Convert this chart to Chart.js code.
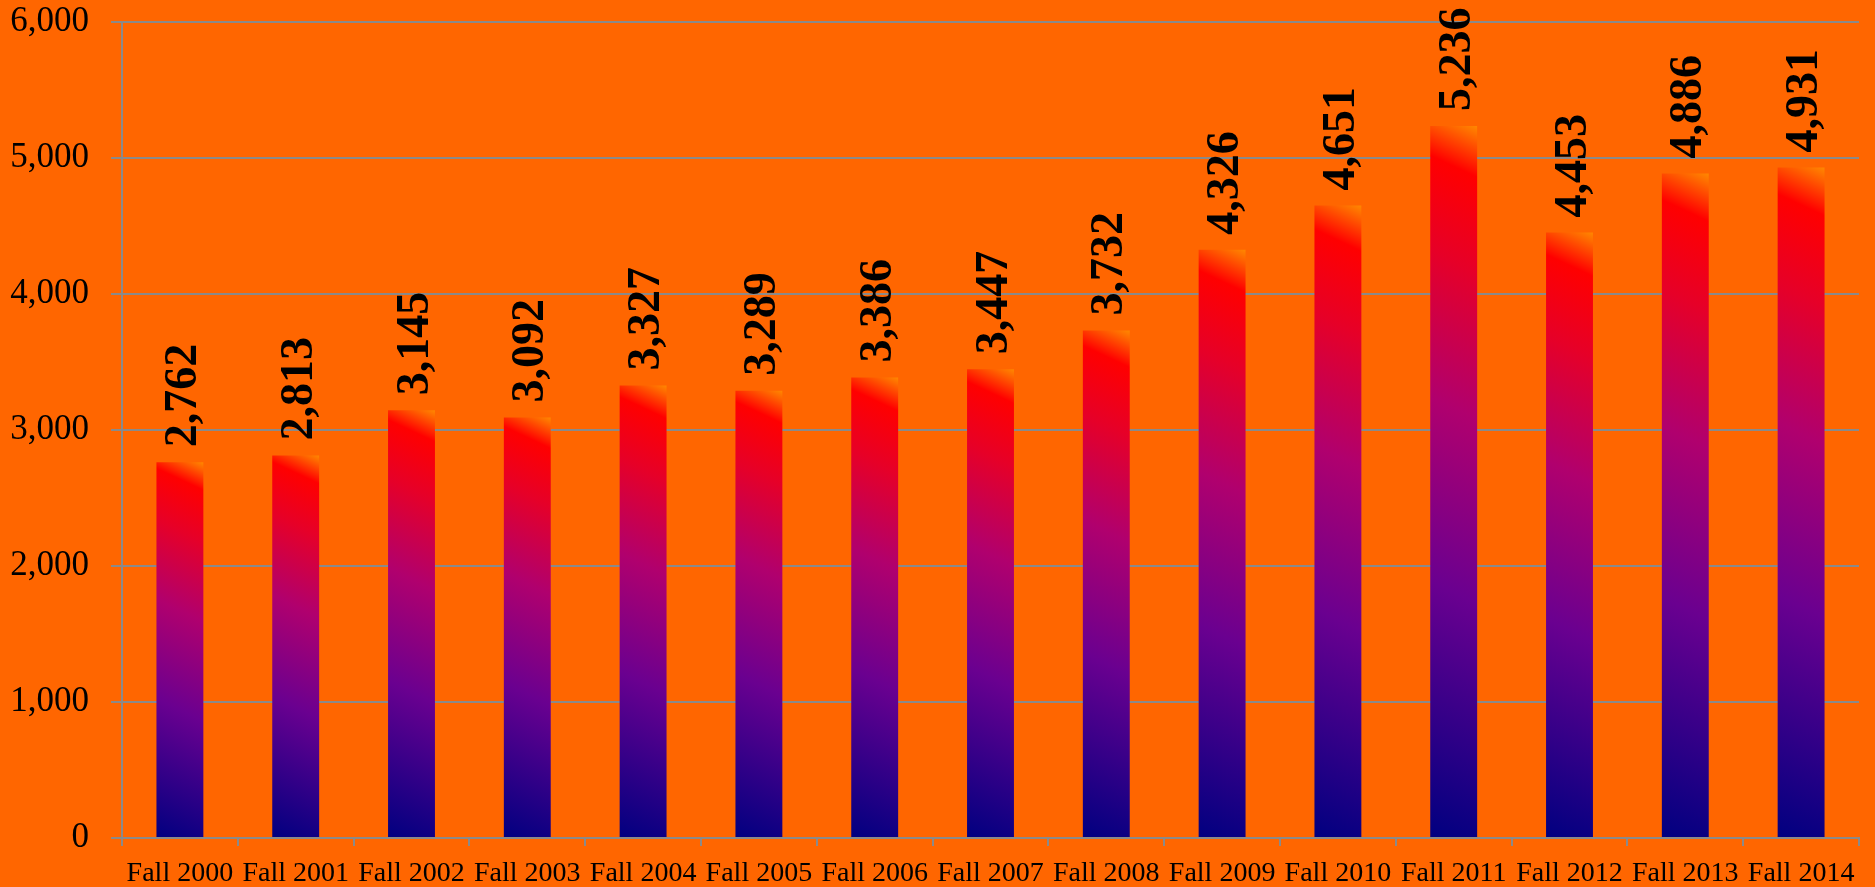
<!DOCTYPE html>
<html>
<head>
<meta charset="utf-8">
<script src="https://cdn.jsdelivr.net/npm/chart.js@4/dist/chart.umd.min.js"></script>
<style>
  html, body { margin: 0; padding: 0; background: #ff6600; }
  #chart { display: block; }
</style>
</head>
<body>
<canvas id="chart" width="1875" height="887"></canvas>
<script>
// Enrollment by fall term
const terms = ['Fall 2000', 'Fall 2001', 'Fall 2002', 'Fall 2003', 'Fall 2004', 'Fall 2005', 'Fall 2006',
    'Fall 2007', 'Fall 2008', 'Fall 2009', 'Fall 2010', 'Fall 2011', 'Fall 2012', 'Fall 2013', 'Fall 2014'];
const enrollment = [2762, 2813, 3145, 3092, 3327, 3289, 3386, 3447, 3732, 4326, 4651, 5236, 4453, 4886, 4931];
const yTicks = [0, 1000, 2000, 3000, 4000, 5000, 6000];

const BAR_FRACTION = 0.405;
const GRID = '#8a8a8a';
const SERIF = '"Liberation Serif", "DejaVu Serif", serif';

// per-bar gradient: navy at the bottom, red near the top, orange in the top-right corner
function barGradient(ctx) {
    const chart = ctx.chart;
    if (!chart.chartArea || ctx.dataIndex === undefined) return '#ff0000';
    const xs = chart.scales.x, ys = chart.scales.y;
    const cx = xs.getPixelForValue(ctx.dataIndex);
    const w = xs.width / terms.length * BAR_FRACTION;
    const top = ys.getPixelForValue(enrollment[ctx.dataIndex]);
    const base = ys.getPixelForValue(0);
    const h = base - top;
    const tilt = 25 * Math.PI / 180;
    const len = w * Math.sin(tilt) + h * Math.cos(tilt);
    const x0 = cx - w / 2;
    const g = chart.ctx.createLinearGradient(x0, base,
        x0 + Math.sin(tilt) * len, base - Math.cos(tilt) * len);
    g.addColorStop(0, '#000080');
    g.addColorStop(0.35, '#6a0090');
    g.addColorStop(0.6, '#b0006e');
    g.addColorStop(0.8, '#e60028');
    g.addColorStop(0.93, '#ff0000');
    g.addColorStop(1, '#ff8800');
    return g;
}

// rotated value labels above each bar
const valueLabels = {
    id: 'valueLabels',
    afterDatasetsDraw(chart) {
        const ctx = chart.ctx;
        const meta = chart.getDatasetMeta(0);
        const size = 46;
        ctx.save();
        ctx.font = `bold ${size}px ${SERIF}`;
        ctx.fillStyle = '#000';
        ctx.textAlign = 'left';
        ctx.textBaseline = 'alphabetic';
        meta.data.forEach((bar, i) => {
            ctx.save();
            ctx.translate(bar.x + size * 0.35, bar.y - 15);
            ctx.rotate(-Math.PI / 2);
            ctx.fillText(enrollment[i].toLocaleString('en-US'), 0, 0);
            ctx.restore();
        });
        ctx.restore();
    }
};

new Chart(document.getElementById('chart'), {
    type: 'bar',
    data: {
        labels: terms,
        datasets: [{
            data: enrollment,
            backgroundColor: barGradient,
            borderWidth: 0,
            categoryPercentage: 1,
            barPercentage: BAR_FRACTION,
        }]
    },
    options: {
        responsive: false,
        animation: false,
        devicePixelRatio: 1,
        layout: { padding: { top: 22, right: 16, left: 0, bottom: 0 } },
        plugins: {
            legend: { display: false },
            tooltip: { enabled: false },
        },
        scales: {
            x: {
                offset: true,
                grid: { offset: true, drawOnChartArea: false, drawTicks: true, tickLength: 8, color: GRID, lineWidth: 2 },
                border: { color: GRID, width: 2 },
                ticks: { color: '#000', font: { family: SERIF, size: 28 }, padding: 11, maxRotation: 0, autoSkip: false },
                afterFit: s => { s.height = 49; s.paddingLeft = 0; s.paddingRight = 0; },
            },
            y: {
                min: 0,
                max: 6000,
                afterBuildTicks: s => { s.ticks = yTicks.map(v => ({ value: v })); },
                grid: { color: GRID, lineWidth: 2, tickLength: 11 },
                border: { color: GRID, width: 2 },
                ticks: {
                    color: '#000',
                    font: { family: SERIF, size: 35 },
                    padding: 22,
                    callback: v => v.toLocaleString('en-US'),
                },
                afterFit: s => { s.width = 122; s.paddingTop = 0; s.paddingBottom = 0; },
            }
        }
    },
    plugins: [valueLabels],
});
</script>
</body>
</html>
